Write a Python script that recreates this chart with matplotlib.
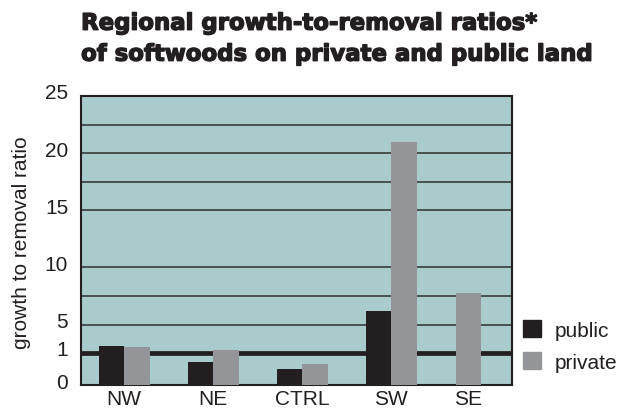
import numpy as np
import matplotlib
matplotlib.use("Agg")
import matplotlib.pyplot as plt
import matplotlib.patheffects as pe
from matplotlib.transforms import ScaledTranslation
from matplotlib.patches import Patch

# ---- data ----
regions = ["NW", "NE", "CTRL", "SW", "SE"]
public = [2.03, 0.71, 0.50, 6.15, np.nan]
private = [1.87, 1.42, 0.66, 21.0, 7.8]
ytick_vals = [0, 1, 5, 10, 15, 20, 25]
ytick_labels = ["0", "1", "5", "10", "15", "20", "25"]

# ---- piecewise y scale (as drawn in the original) ----
bp_data = [0, 1, 5, 25]
bp_disp = [0, 32, 60.3, 288.7]

def fwd(v):
    return np.interp(v, bp_data, bp_disp)

def inv(v):
    return np.interp(v, bp_disp, bp_data)

plt.rcParams['font.family'] = ['Liberation Sans', 'DejaVu Sans']
FS = 15
TXT = '#231f20'

fig = plt.figure(figsize=(6.19, 4.10), dpi=100)
ax = fig.add_axes([0.1304, 0.0585, 0.697, 0.705])
ax.set_yscale('function', functions=(fwd, inv))
ax.set_facecolor('#a9cbcb')

n = len(regions)
centers = np.arange(n, dtype=float)
centers[-1] -= 0.13
w = 0.287
pub_col = '#231f20'
priv_col = '#939598'

for i in range(n):
    if np.isnan(public[i]):
        ax.bar(centers[i], private[i], w, color=priv_col, zorder=3)
    else:
        ax.bar(centers[i] - w / 2, public[i], w, color=pub_col, zorder=3)
        ax.bar(centers[i] + w / 2, private[i], w, color=priv_col, zorder=3)

for g in [5, 7.5, 10, 15, 17.5, 20, 22.5]:
    ax.axhline(g, color='#2e2e2e', lw=1.1, zorder=1)
ax.axhline(1, color='#231f20', lw=3.4, zorder=2)

ax.set_xlim(-0.487, 4.36)
ax.set_ylim(0, 25)
ax.set_xticks(centers)
ax.set_xticklabels(regions, fontsize=FS, color=TXT)
ax.set_yticks(ytick_vals)
ax.set_yticklabels(ytick_labels, fontsize=FS, color=TXT)
ax.minorticks_off()
ax.tick_params(axis='both', length=0)
ax.tick_params(axis='y', pad=9)
ax.tick_params(axis='x', pad=3)
off = ScaledTranslation(0, 5 / 100, fig.dpi_scale_trans)
for lab in ax.get_yticklabels():
    lab.set_transform(lab.get_transform() + off)

for s in ax.spines.values():
    s.set_color('#231f20')
    s.set_linewidth(1.5)

fig.text(0.034, 0.408, "growth to removal ratio", rotation=90, fontsize=FS,
         color=TXT, ha='center', va='center')

title_kw = dict(fontsize=14, family=['DejaVu Sans'], fontweight='bold',
                color=TXT, ha='left', va='baseline',
                path_effects=[pe.withStroke(linewidth=1.0, foreground=TXT)])
t1 = fig.text(0.131, 0.925, "Regional growth-to-removal ratios*", **title_kw)
t2 = fig.text(0.131, 0.8495, "of softwoods on private and public land", **title_kw)
# one common size, fitted to the reference's total title line length
r = fig.canvas.get_renderer()
wsum = t1.get_window_extent(r).width + t2.get_window_extent(r).width
fs_title = 14 * (456 + 514) / wsum
t1.set_fontsize(fs_title)
t2.set_fontsize(fs_title)

handles = [Patch(color=pub_col, label='public'), Patch(color=priv_col, label='private')]
fig.legend(handles=handles, loc='center left', bbox_to_anchor=(0.8445, 0.1537),
           frameon=False, fontsize=FS, handlelength=0.87, handleheight=0.87,
           labelspacing=0.6, handletextpad=0.68, borderpad=0, borderaxespad=0,
           labelcolor=TXT)

fig.savefig("out.png", dpi=100)
